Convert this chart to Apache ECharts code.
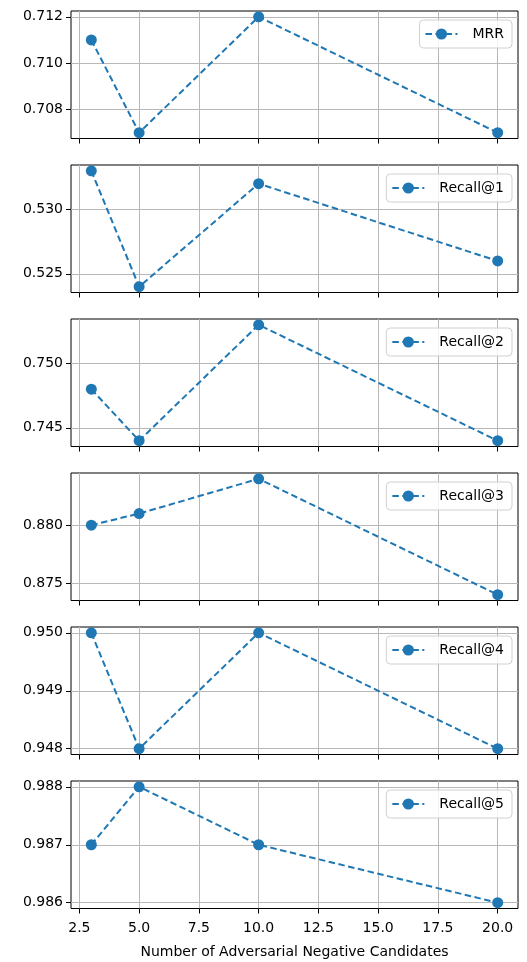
<!DOCTYPE html>
<html><head><meta charset="utf-8">
<script src="https://cdn.jsdelivr.net/npm/echarts@6/dist/echarts.min.js"></script>
<style>html,body{margin:0;padding:0;background:#fff}#c{width:527px;height:962px}</style>
</head><body><div id="c"></div>
<script>
const candidates = [3, 5, 10, 20];
const mrr = [0.711, 0.707, 0.712, 0.707];
const recall1 = [0.533, 0.524, 0.532, 0.526];
const recall2 = [0.748, 0.744, 0.753, 0.744];
const recall3 = [0.880, 0.881, 0.884, 0.874];
const recall4 = [0.950, 0.948, 0.950, 0.948];
const recall5 = [0.987, 0.988, 0.987, 0.986];
const seriesNames = ['MRR', 'Recall@1', 'Recall@2', 'Recall@3', 'Recall@4', 'Recall@5'];
const seriesValues = [mrr, recall1, recall2, recall3, recall4, recall5];
const xTicks = [2.5, 5, 7.5, 10, 12.5, 15, 17.5, 20];
const yTicks = [
  [0.708, 0.710, 0.712],
  [0.525, 0.530],
  [0.745, 0.750],
  [0.875, 0.880],
  [0.948, 0.949, 0.950],
  [0.986, 0.987, 0.988]
];
const xLabel = 'Number of Adversarial Negative Candidates';

const FONT = 'DejaVu Sans';
const BLUE = '#1f77b4';
const n = seriesNames.length;
const top0 = 11, step = 154, h = 127.5;

function padRange(arr) {
  const lo = Math.min(...arr), hi = Math.max(...arr);
  const p = (hi - lo) * 0.05;
  return [lo - p, hi + p];
}
const xr = padRange(candidates);

const grids = [], xAxes = [], yAxes = [], series = [], legends = [];
for (let i = 0; i < n; i++) {
  const t = top0 + i * step;
  grids.push({left: 71, right: 9, top: t, height: h, show: true, borderColor: '#000', borderWidth: 1, backgroundColor: 'transparent'});
  const last = i === n - 1;
  xAxes.push({
    type: 'value', gridIndex: i, min: xr[0], max: xr[1],
    axisLine: {show: false},
    axisTick: {show: true, customValues: xTicks, length: 5, lineStyle: {color: '#000', width: 1}},
    axisLabel: {show: last, customValues: xTicks, formatter: v => v.toFixed(1), fontFamily: FONT, fontSize: 14, color: '#000', margin: 13},
    splitLine: {show: true, lineStyle: {color: '#b8b8b8', width: 1}},
    name: last ? xLabel : '', nameLocation: 'middle', nameGap: 37,
    nameTextStyle: {fontFamily: FONT, fontSize: 14, color: '#000'}
  });
  const yr = padRange(seriesValues[i]);
  yAxes.push({
    type: 'value', gridIndex: i, min: yr[0], max: yr[1],
    axisLine: {show: false},
    axisTick: {show: true, customValues: yTicks[i], length: 5, lineStyle: {color: '#000', width: 1}},
    axisLabel: {show: true, customValues: yTicks[i], formatter: v => v.toFixed(3), fontFamily: FONT, fontSize: 14, color: '#000', margin: 8},
    splitLine: {show: true, lineStyle: {color: '#b8b8b8', width: 1}}
  });
  series.push({
    name: seriesNames[i], type: 'line', xAxisIndex: i, yAxisIndex: i,
    data: candidates.map((x, j) => [x, seriesValues[i][j]]),
    symbol: 'circle', symbolSize: 11,
    itemStyle: {color: BLUE},
    lineStyle: {color: BLUE, width: 2, type: [6.5, 3.5]},
    animation: false
  });
  legends.push({
    data: [seriesNames[i]], right: 15, top: t + 9,
    backgroundColor: 'rgba(255,255,255,0.8)', borderColor: '#d0d0d0', borderWidth: 1, borderRadius: 4,
    padding: [7, 8, 7, 5], itemWidth: 32, itemHeight: 14,
    textStyle: {fontFamily: FONT, fontSize: 14, color: '#000', padding: [0, 0, 0, 10]},
    selectedMode: false
  });
}

const chart = echarts.init(document.getElementById('c'), null, {renderer: 'canvas'});
chart.setOption({
  animation: false,
  grid: grids, xAxis: xAxes, yAxis: yAxes, series: series, legend: legends
});
</script></body></html>
